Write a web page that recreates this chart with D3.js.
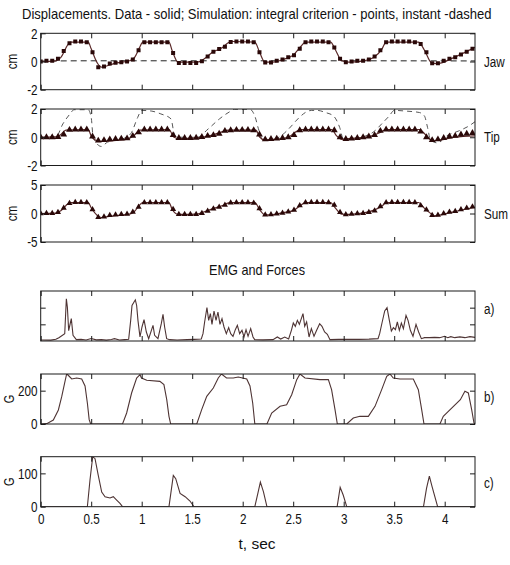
<!DOCTYPE html>
<html>
<head>
<meta charset="utf-8">
<script src="https://cdn.jsdelivr.net/npm/d3@7"></script>
<style>
  body { margin: 0; background: #fff; }
  svg { display: block; }
  text { font-family: "Liberation Sans", Arial, sans-serif; fill: #111; }
</style>
</head>
<body>
<svg id="chart" width="510" height="565"></svg>
<script>
// ---- data -------------------------------------------------------------
// sampling instants of the simulated (integral criterion) points, s
const simTimes = [0, 0.057, 0.114, 0.171, 0.228, 0.285, 0.342, 0.399, 0.456, 0.513,
  0.57, 0.627, 0.684, 0.741, 0.798, 0.855, 0.912, 0.969, 1.026, 1.083,
  1.14, 1.197, 1.254, 1.311, 1.368, 1.425, 1.482, 1.539, 1.596, 1.653,
  1.71, 1.767, 1.824, 1.881, 1.938, 1.995, 2.052, 2.109, 2.166, 2.223,
  2.28, 2.337, 2.394, 2.451, 2.508, 2.565, 2.622, 2.679, 2.736, 2.793,
  2.85, 2.907, 2.964, 3.021, 3.078, 3.135, 3.192, 3.249, 3.306, 3.363,
  3.42, 3.477, 3.534, 3.591, 3.648, 3.705, 3.762, 3.819, 3.876, 3.933,
  3.99, 4.047, 4.104, 4.161, 4.218, 4.275];

// simulated displacements (cm)
const jawSim = [0, 0.05, 0.05, 0.19, 0.75, 1.29, 1.41, 1.41, 1.36, 0.66,
  -0.4, -0.35, -0.15, -0.08, -0.05, 0, 0.15, 0.8, 1.36, 1.36,
  1.36, 1.36, 1.36, 0.6, -0.1, -0.1, -0.1, -0.1, 0.02, 0.35,
  0.7, 0.89, 1.05, 1.38, 1.41, 1.41, 1.41, 1.36, 0.66, -0.07,
  -0.07, 0.05, 0.15, 0.3, 0.45, 0.9, 1.36, 1.41, 1.41, 1.41,
  1.36, 1.0, 0.2, -0.05, 0, 0.05, 0.05, 0.15, 0.35, 0.8,
  1.36, 1.41, 1.41, 1.41, 1.41, 1.36, 1.25, 0.65, -0.12, -0.12,
  0.05, 0.2, 0.3, 0.5, 0.7, 0.9];
const tipSim = [0, 0, 0, 0.02, 0.2, 0.52, 0.55, 0.55, 0.55, 0.05,
  -0.24, -0.2, -0.15, -0.12, -0.1, -0.08, 0.1, 0.35, 0.55, 0.55,
  0.55, 0.55, 0.55, 0.15, -0.05, -0.05, -0.05, -0.03, 0.02, 0.1,
  0.15, 0.25, 0.45, 0.5, 0.52, 0.52, 0.52, 0.5, 0.2, -0.15,
  -0.12, -0.1, -0.05, 0, 0.15, 0.5, 0.55, 0.55, 0.55, 0.55,
  0.55, 0.5, 0.0, -0.12, -0.1, -0.05, 0, 0.05, 0.15, 0.45,
  0.55, 0.55, 0.55, 0.55, 0.55, 0.55, 0.4, 0.0, -0.2, -0.15,
  -0.05, 0.05, 0.1, 0.2, 0.25, 0.3];
const sumSim = [0, 0.05, 0.05, 0.21, 0.95, 1.81, 1.96, 1.96, 1.91, 0.71,
  -0.64, -0.55, -0.3, -0.2, -0.15, -0.08, 0.25, 1.15, 1.91, 1.91,
  1.91, 1.91, 1.91, 0.75, -0.15, -0.15, -0.15, -0.13, 0.04, 0.45,
  0.85, 1.14, 1.5, 1.88, 1.93, 1.93, 1.93, 1.86, 0.86, -0.22,
  -0.19, -0.05, 0.1, 0.3, 0.6, 1.4, 1.91, 1.96, 1.96, 1.96,
  1.91, 1.5, 0.2, -0.17, -0.1, 0.0, 0.05, 0.2, 0.5, 1.25,
  1.91, 1.96, 1.96, 1.96, 1.96, 1.91, 1.4, 0.65, -0.32, -0.27,
  0.0, 0.25, 0.4, 0.7, 0.95, 1.2];

// recorded displacements (cm), [t, value]
const jawData = [[0, 0], [0.15, 0.05], [0.2, 0.3], [0.27, 1.2], [0.3, 1.38], [0.47, 1.38], [0.5, 0.9],
  [0.56, -0.1], [0.6, -0.4], [0.66, -0.3], [0.75, -0.1], [0.88, 0.05], [0.93, 0.3], [0.98, 1.0],
  [1.01, 1.38], [1.27, 1.38], [1.3, 0.8], [1.36, -0.05], [1.55, -0.05], [1.62, 0.2], [1.7, 0.65],
  [1.8, 1.0], [1.86, 1.35], [1.9, 1.42], [2.12, 1.38], [2.17, 0.6], [2.22, -0.05], [2.3, -0.05],
  [2.4, 0.15], [2.5, 0.45], [2.58, 1.1], [2.62, 1.38], [2.87, 1.38], [2.92, 0.8], [2.98, 0.05],
  [3.05, -0.05], [3.2, 0.05], [3.3, 0.3], [3.38, 0.9], [3.42, 1.38], [3.74, 1.38], [3.8, 0.8],
  [3.87, -0.1], [3.92, -0.15], [3.97, -0.1], [4.05, 0.15], [4.2, 0.65], [4.3, 1.0]];
const tipData = [[0, 0], [0.15, 0.02], [0.2, 0.2], [0.25, 0.5], [0.47, 0.55], [0.5, 0.1], [0.56, -0.25],
  [0.62, -0.3], [0.7, -0.25], [0.85, -0.15], [0.92, 0.1], [0.98, 0.5], [1.27, 0.55], [1.32, 0.0],
  [1.37, -0.1], [1.55, -0.05], [1.7, 0.15], [1.8, 0.4], [1.86, 0.5], [2.13, 0.5], [2.17, 0.0],
  [2.22, -0.2], [2.3, -0.15], [2.45, 0.0], [2.52, 0.35], [2.57, 0.55], [2.88, 0.55], [2.93, 0.1],
  [2.98, -0.15], [3.05, -0.1], [3.25, 0.05], [3.35, 0.3], [3.42, 0.55], [3.75, 0.55], [3.82, 0.1],
  [3.88, -0.25], [3.95, -0.2], [4.1, 0.0], [4.3, 0.1]];
const sumData = [[0, 0], [0.15, 0.07], [0.2, 0.5], [0.27, 1.7], [0.3, 1.93], [0.47, 1.93], [0.5, 1.0],
  [0.56, -0.35], [0.6, -0.7], [0.66, -0.55], [0.75, -0.35], [0.88, -0.1], [0.93, 0.4], [0.98, 1.5],
  [1.01, 1.93], [1.27, 1.93], [1.3, 0.8], [1.36, -0.15], [1.55, -0.1], [1.62, 0.3], [1.7, 0.8],
  [1.8, 1.4], [1.86, 1.85], [1.9, 1.92], [2.12, 1.9], [2.17, 0.6], [2.22, -0.25], [2.3, -0.2],
  [2.4, 0.15], [2.5, 0.5], [2.58, 1.5], [2.62, 1.93], [2.87, 1.93], [2.92, 0.9], [2.98, -0.1],
  [3.05, -0.15], [3.2, 0.1], [3.3, 0.6], [3.38, 1.3], [3.42, 1.93], [3.74, 1.93], [3.8, 0.9],
  [3.87, -0.1], [3.9, -0.4], [3.95, -0.3], [4.05, 0.15], [4.2, 0.75], [4.3, 1.1]];

// instant-criterion simulation (cm), [t, value]
const jawInstant = [[0, 0.03], [0.5, 0.05], [1.0, 0.05], [2.0, 0.05], [3.0, 0.05], [4.3, 0.04]];
const tipInstant = [[0, 0], [0.15, 0.02], [0.22, 0.95], [0.29, 1.65], [0.33, 1.95], [0.47, 1.95],
  [0.5, 1.4], [0.52, 0], [0.6, -0.65], [0.66, -0.35], [0.75, -0.2], [0.85, 0.0], [0.9, 0.35],
  [0.96, 1.4], [1.0, 1.9], [1.1, 1.85], [1.19, 1.65], [1.29, 1.3], [1.32, 0.3], [1.35, 0.0],
  [1.55, 0.0], [1.66, 0.6], [1.77, 1.3], [1.87, 1.8], [1.92, 1.98], [2.07, 1.98], [2.12, 1.5],
  [2.16, 0.5], [2.2, -0.2], [2.3, -0.15], [2.38, 0.1], [2.45, 0.55], [2.56, 1.4], [2.62, 1.75],
  [2.68, 1.9], [2.74, 1.9], [2.82, 1.75], [2.9, 1.5], [2.96, 0.7], [3.0, -0.2], [3.1, -0.1],
  [3.22, 0.1], [3.29, 0.35], [3.39, 1.05], [3.45, 1.5], [3.5, 1.9], [3.62, 1.85], [3.75, 1.75],
  [3.8, 1.5], [3.83, 0.7], [3.86, -0.2], [3.93, -0.4], [4.02, 0.1], [4.14, 0.45], [4.24, 0.8], [4.3, 1.1]];

// EMG envelope (a.u.), [t, value]
const emg = [[0, 0.06], [0.1, 0.05], [0.15, 0.1], [0.18, 0.2], [0.238, 0.44], [0.254, 2.53], [0.264, 2.04],
  [0.277, 0.62], [0.303, 1.34], [0.32, 0.34], [0.353, 0.08], [0.4, 0.1], [0.45, 0.06], [0.5, 0.15],
  [0.55, 0.07], [0.6, 0.08], [0.65, 0.05], [0.7, 0.09], [0.73, 0.14], [0.78, 0.06], [0.83, 0.08],
  [0.871, 0.1], [0.891, 1.24], [0.904, 2.13], [0.924, 2.34], [0.937, 2.47], [0.95, 2.13], [0.963, 1.24],
  [0.983, 0.24], [1.003, 0.84], [1.023, 1.28], [1.046, 0.54], [1.069, 0.14], [1.096, 0.64], [1.112, 0.94],
  [1.128, 0.34], [1.161, 0.14], [1.194, 1.04], [1.211, 1.6], [1.227, 0.84], [1.247, 0.14], [1.277, 0.08],
  [1.35, 0.06], [1.45, 0.08], [1.52, 0.1], [1.59, 0.12], [1.607, 0.44], [1.623, 1.14], [1.646, 2.0],
  [1.663, 1.24], [1.68, 1.64], [1.696, 1.0], [1.716, 1.8], [1.736, 1.24], [1.755, 1.74], [1.775, 1.0],
  [1.795, 1.34], [1.815, 0.84], [1.838, 0.44], [1.861, 0.8], [1.881, 0.44], [1.904, 0.28], [1.927, 0.68],
  [1.947, 0.94], [1.97, 0.44], [1.993, 0.64], [2.013, 0.24], [2.033, 0.68], [2.053, 0.28], [2.079, 0.74],
  [2.102, 0.24], [2.119, 0.08], [2.2, 0.07], [2.3, 0.08], [2.343, 0.24], [2.376, 0.12], [2.416, 0.24],
  [2.455, 0.12], [2.482, 0.64], [2.501, 1.08], [2.521, 0.88], [2.541, 1.24], [2.561, 1.0], [2.597, 1.64],
  [2.614, 0.88], [2.633, 1.14], [2.657, 0.24], [2.68, 0.74], [2.706, 0.28], [2.732, 0.64], [2.762, 1.04],
  [2.785, 0.88], [2.811, 0.54], [2.838, 0.4], [2.864, 0.08], [2.95, 0.1], [3.05, 0.1], [3.15, 0.1],
  [3.25, 0.11], [3.34, 0.14], [3.356, 0.44], [3.379, 1.08], [3.406, 1.8], [3.429, 2.0], [3.452, 1.24],
  [3.472, 0.6], [3.492, 0.8], [3.512, 0.68], [3.531, 1.14], [3.551, 0.64], [3.571, 1.08], [3.591, 0.74],
  [3.617, 1.54], [3.637, 1.24], [3.66, 0.64], [3.686, 0.28], [3.716, 1.0], [3.742, 0.54], [3.769, 0.14],
  [3.8, 0.2], [3.85, 0.2], [3.9, 0.22], [3.95, 0.2], [4.0, 0.28], [4.03, 0.2], [4.06, 0.26], [4.1, 0.2],
  [4.15, 0.25], [4.2, 0.2], [4.25, 0.26], [4.3, 0.22]];

// forces (G), [t, value]
const forceB = [[0, 0], [0.06, 2], [0.125, 24], [0.175, 84], [0.208, 164], [0.24, 254], [0.257, 300],
  [0.27, 294], [0.307, 270], [0.356, 276], [0.406, 270], [0.439, 228], [0.462, 126], [0.48, 26],
  [0.495, 0], [0.81, 0], [0.851, 66], [0.9, 186], [0.95, 276], [0.983, 296], [0.998, 276], [1.05, 262],
  [1.18, 256], [1.22, 236], [1.248, 146], [1.27, 46], [1.287, 0], [1.545, 0], [1.594, 86], [1.644, 166],
  [1.709, 216], [1.758, 276], [1.79, 300], [1.84, 276], [1.907, 276], [1.956, 282], [2.04, 270],
  [2.072, 228], [2.099, 126], [2.12, 0], [2.24, 0], [2.287, 66], [2.37, 106], [2.435, 116], [2.485, 176],
  [2.535, 266], [2.567, 300], [2.617, 276], [2.765, 266], [2.848, 266], [2.88, 206], [2.914, 86],
  [2.937, 0], [3.03, 0], [3.095, 36], [3.161, 46], [3.244, 46], [3.31, 106], [3.376, 206], [3.426, 286],
  [3.458, 300], [3.491, 276], [3.557, 270], [3.689, 270], [3.739, 206], [3.772, 86], [3.795, 0],
  [3.953, 0], [3.986, 46], [4.036, 76], [4.155, 146], [4.2, 196], [4.234, 186], [4.267, 86], [4.29, 6], [4.3, 0]];
const forceC = [[0, 0], [0.462, 0], [0.488, 80], [0.515, 150], [0.538, 144], [0.57, 94], [0.604, 44],
  [0.637, 30], [0.686, 26], [0.719, 30], [0.752, 20], [0.785, 10], [0.81, 0], [1.27, 0], [1.313, 94],
  [1.337, 84], [1.38, 40], [1.43, 30], [1.478, 17], [1.518, 0], [2.12, 0], [2.15, 40], [2.175, 74],
  [2.205, 45], [2.24, 0], [2.935, 0], [2.965, 58], [2.995, 35], [3.03, 0], [3.79, 0], [3.82, 55],
  [3.848, 92], [3.875, 60], [3.93, 0], [4.3, 0]];

// tick values
const timeTicks = [0, 0.5, 1, 1.5, 2, 2.5, 3, 3.5, 4];
const cmTicks = [-2, 0, 2];
const sumTicks = [-5, 0, 5];
const emgTicks = [1, 2];
const forceBTicks = [0, 200];
const forceCTicks = [0, 100];

// ---- layout ------------------------------------------------------------
const svg = d3.select("#chart");
const X0 = 40.7, X1 = 475;
const NARROW = 0.78;            // horizontal squeeze giving a narrow face
const x = d3.scaleLinear().domain([0, 4.3]).range([X0, X1]);
const plain = d => String(d);   // hyphen-minus, no fixed decimals

const panels = [
  { id: "jaw", top: 33.3, bottom: 89.7, domain: [-2, 2], ticks: cmTicks, side: "Jaw", sideY: 66.5, ylab: "cm" },
  { id: "tip", top: 109, bottom: 165.5, domain: [-2, 2], ticks: cmTicks, side: "Tip", sideY: 142, ylab: "cm" },
  { id: "sum", top: 185, bottom: 242, domain: [-5, 5], ticks: sumTicks, side: "Sum", sideY: 218.5, ylab: "cm" },
  { id: "emg", top: 291, bottom: 341, domain: [0, 3], ticks: emgTicks, side: "a)", sideY: 314, ylab: null, noLabels: true },
  { id: "fb", top: 374, bottom: 424, domain: [0, 300], ticks: forceBTicks, side: "b)", sideY: 402, ylab: "G" },
  { id: "fc", top: 456.7, bottom: 506.7, domain: [0, 150], ticks: forceCTicks, side: "c)", sideY: 487.5, ylab: "G", xLabels: true }
];

const FRAME = "#1b1b1b";
const LINE_TOP = "#5b2a2a";
const MARK = "#2a0808";
const LINE_LOW = "#4e3434";

const defs = svg.append("defs");

panels.forEach(p => {
  p.y = d3.scaleLinear().domain(p.domain).range([p.bottom, p.top]);
  defs.append("clipPath").attr("id", "clip-" + p.id)
    .append("rect").attr("x", X0).attr("y", p.top).attr("width", X1 - X0).attr("height", p.bottom - p.top);
  p.g = svg.append("g").attr("class", "panel-" + p.id);
  p.plot = p.g.append("g").attr("clip-path", `url(#clip-${p.id})`);
});

// text placed at (tx, ty), squeezed horizontally
function label(parent, tx, ty, str, size, anchor, sx, rot) {
  return parent.append("text")
    .attr("transform", `translate(${tx},${ty})${rot ? ` rotate(${rot})` : ""} scale(${sx},1)`)
    .attr("text-anchor", anchor).attr("font-size", size).text(str);
}

// text stretched or squeezed to a given width
function fitted(parent, tx, ty, str, size, width) {
  const t = parent.append("text").attr("text-anchor", "middle").attr("font-size", size).text(str);
  const w = t.node().getComputedTextLength();
  t.attr("transform", `translate(${tx},${ty}) scale(${width / w},1)`);
  return t;
}

function drawFrame(p) {
  const g = p.g;
  const left = d3.axisLeft(p.y).tickValues(p.ticks).tickSizeInner(-5).tickSizeOuter(0).tickPadding(4)
    .tickFormat(p.noLabels ? "" : plain);
  const right = d3.axisRight(p.y).tickValues(p.ticks).tickSizeInner(-5).tickSizeOuter(0).tickFormat("");
  const top = d3.axisTop(x).tickValues(timeTicks).tickSizeInner(-5).tickSizeOuter(0).tickFormat("");
  const bottom = d3.axisBottom(x).tickValues(timeTicks).tickSizeInner(-5).tickSizeOuter(0).tickPadding(7)
    .tickFormat(p.xLabels ? plain : "");

  const axes = [
    g.append("g").attr("transform", `translate(${X0},0)`).call(left),
    g.append("g").attr("transform", `translate(${X1},0)`).call(right),
    g.append("g").attr("transform", `translate(0,${p.top})`).call(top),
    g.append("g").attr("transform", `translate(0,${p.bottom})`).call(bottom)
  ];
  axes.forEach(a => {
    a.select(".domain").remove();
    a.selectAll(".tick line").attr("stroke", FRAME);
    a.selectAll(".tick text").attr("font-size", 15).attr("fill", "#111")
      .attr("font-family", '"Liberation Sans", Arial, sans-serif')
      .attr("transform", `scale(${NARROW},1)`);
  });
  g.append("rect").attr("x", X0).attr("y", p.top).attr("width", X1 - X0).attr("height", p.bottom - p.top)
    .attr("fill", "none").attr("stroke", FRAME).attr("stroke-width", 1);

  label(g, 484, p.sideY, p.side, 15, "start", NARROW);
  if (p.ylab) {
    const cy = (p.top + p.bottom) / 2;
    const lx = p.ylab === "cm" ? 16.5 : 13.5;
    label(g, lx, cy, p.ylab, p.ylab === "cm" ? 15 : 14, "middle", NARROW, -90);
  }
}

function plotPairs(p, data, color, width, dash) {
  p.plot.append("path").datum(data)
    .attr("fill", "none").attr("stroke", color).attr("stroke-width", width)
    .attr("stroke-dasharray", dash || null)
    .attr("d", d3.line().x(d => x(d[0])).y(d => p.y(d[1])).curve(d3.curveMonotoneX));
}

function plotMarkers(p, values, symbolType, size) {
  const sym = d3.symbol().type(symbolType).size(size);
  p.plot.append("g").selectAll("path").data(values).join("path")
    .attr("transform", (v, i) => `translate(${x(simTimes[i])},${p.y(v)})`)
    .attr("d", sym).attr("fill", MARK);
}

const [pJaw, pTip, pSum, pEmg, pB, pC] = panels;

// displacement panels
plotPairs(pJaw, jawInstant, "#222", 1, "6,4");
plotPairs(pJaw, jawData, LINE_TOP, 1.2);
plotMarkers(pJaw, jawSim, d3.symbolSquare, 16);

plotPairs(pTip, tipInstant, "#444", 0.9, "5,4");
plotPairs(pTip, tipData, LINE_TOP, 1.2);
plotMarkers(pTip, tipSim, d3.symbolTriangle, 20);

plotPairs(pSum, sumData, LINE_TOP, 1.2);
plotMarkers(pSum, sumSim, d3.symbolTriangle, 16);

// EMG and forces
function plotLinear(p, data) {
  p.plot.append("path").datum(data)
    .attr("fill", "none").attr("stroke", LINE_LOW).attr("stroke-width", 1.1)
    .attr("d", d3.line().x(d => x(d[0])).y(d => p.y(d[1])));
}
plotLinear(pEmg, emg);
plotLinear(pB, forceB);
plotLinear(pC, forceC);

panels.forEach(drawFrame);

// titles
fitted(svg, 256.7, 18.5, "Displacements. Data - solid; Simulation: integral criterion - points, instant -dashed", 14, 470);
fitted(svg, 257, 275, "EMG and Forces", 14, 96);
fitted(svg, 257, 549, "t, sec", 14, 37);
</script>
</body>
</html>
